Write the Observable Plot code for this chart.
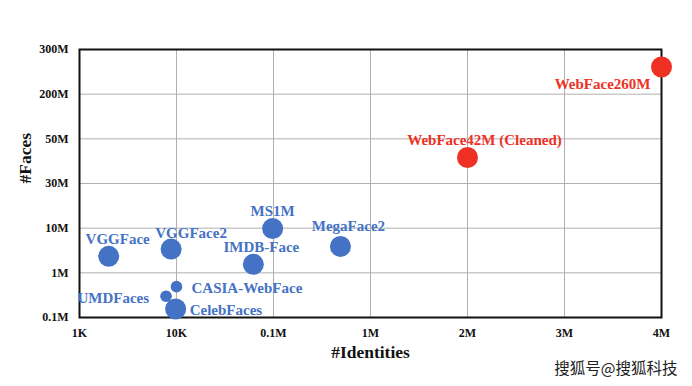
<!DOCTYPE html>
<html>
<head>
<meta charset="utf-8">
<script src="https://cdn.jsdelivr.net/npm/d3@7"></script>
<script src="https://cdn.jsdelivr.net/npm/@observablehq/plot@0.6"></script>
<style>
  html, body { margin: 0; padding: 0; background: #fff; }
  #chart { width: 692px; height: 386px; }
</style>
</head>
<body>
<div id="chart"></div>
<script>
// ---- data ----
const names = ["VGGFace", "VGGFace2", "UMDFaces", "CASIA-WebFace", "CelebFaces",
               "IMDB-Face", "MS1M", "MegaFace2", "WebFace42M (Cleaned)", "WebFace260M"];
const identities = [2000, 8800, 7800, 10000, 9800, 62000, 98000, 490000, 2000000, 4000000];
const faces = [2.34e6, 3.4e6, 3.0e5, 4.9e5, 1.55e5, 1.55e6, 9.8e6, 3.9e6, 4.04e7, 2.56e8];
const group = ["prior", "prior", "prior", "prior", "prior", "prior", "prior", "prior", "ours", "ours"];
const markerClass = ["large", "large", "small", "small", "large", "large", "large", "large", "large", "large"];
const xTickValues = [1e3, 1e4, 1e5, 1e6, 2e6, 3e6, 4e6];
const xTickLabels = ["1K", "10K", "0.1M", "1M", "2M", "3M", "4M"];
const yTickValues = [1e5, 1e6, 1e7, 3e7, 5e7, 2e8, 3e8];
const yTickLabels = ["0.1M", "1M", "10M", "30M", "50M", "200M", "300M"];

// piecewise-log position: tick i sits at position i
function pos(v, ticks) {
  for (let i = 0; i < ticks.length - 1; i++) {
    if (v <= ticks[i + 1] || i === ticks.length - 2) {
      return i + (Math.log(v) - Math.log(ticks[i])) / (Math.log(ticks[i + 1]) - Math.log(ticks[i]));
    }
  }
}

// label placement style per dataset
const labelStyle = {
  "VGGFace": {dx: 9, dy: -17, anchor: "middle"},
  "VGGFace2": {dx: 20, dy: -16, anchor: "middle"},
  "UMDFaces": {dx: -17, dy: 2, anchor: "end"},
  "CASIA-WebFace": {dx: 15, dy: 2, anchor: "start"},
  "CelebFaces": {dx: 14, dy: 1, anchor: "start"},
  "IMDB-Face": {dx: 8, dy: -17, anchor: "middle"},
  "MS1M": {dx: 0, dy: -17, anchor: "middle"},
  "MegaFace2": {dx: 8, dy: -20, anchor: "middle"},
  "WebFace42M (Cleaned)": {dx: 17, dy: -17, anchor: "middle"},
  "WebFace260M": {dx: -11, dy: 17, anchor: "end"}
};

const table = names.map((n, i) => ({
  name: n,
  x: pos(identities[i], xTickValues),
  y: pos(faces[i], yTickValues),
  group: group[i],
  r: markerClass[i] === "small" ? 5.8 : 10.5
}));

const colors = {prior: "#4472C4", ours: "#EE3124"};
const serif = "'Liberation Serif', 'Times New Roman', serif";

const labelMarks = Object.entries(labelStyle).map(([n, s]) =>
  Plot.text(table.filter(d => d.name === n), {
    x: "x", y: "y", text: "name", dx: s.dx, dy: s.dy, textAnchor: s.anchor,
    fill: d => colors[d.group], fontSize: 15, fontWeight: "bold", fontFamily: serif
  })
);

const chart = Plot.plot({
  width: 692,
  height: 386,
  marginLeft: 79,
  marginRight: 31,
  marginTop: 49,
  marginBottom: 69,
  style: {fontFamily: serif, background: "#fff", overflow: "visible"},
  x: {type: "linear", domain: [0, xTickValues.length - 1]},
  y: {type: "linear", domain: [0, yTickValues.length - 1]},
  r: {type: "identity"},
  marks: [
    Plot.gridX(d3.range(xTickValues.length), {stroke: "#b0b0b0", strokeOpacity: 1, strokeWidth: 1}),
    Plot.gridY(d3.range(yTickValues.length), {stroke: "#b0b0b0", strokeOpacity: 1, strokeWidth: 1}),
    Plot.frame({stroke: "#111", strokeWidth: 2}),
    Plot.axisX(d3.range(xTickValues.length), {
      tickFormat: i => xTickLabels[i], tickSize: 0, tickPadding: 11,
      fontSize: 12, fontWeight: "bold", fill: "#111", label: null
    }),
    Plot.axisY(d3.range(yTickValues.length), {
      tickFormat: i => yTickLabels[i], tickSize: 0, tickPadding: 11,
      fontSize: 12, fontWeight: "bold", fill: "#111", label: null
    }),
    Plot.text(["#Identities"], {frameAnchor: "bottom", dy: 40, fontSize: 17.5, fontWeight: "bold", fill: "#111"}),
    Plot.text(["#Faces"], {frameAnchor: "left", dx: -54, rotate: -90, fontSize: 17.5, fontWeight: "bold", fill: "#111"}),
    Plot.dot(table, {x: "x", y: "y", r: "r", fill: d => colors[d.group], stroke: "none"}),
    ...labelMarks,
    Plot.text(["搜狐号@搜狐科技"], {
      frameAnchor: "bottom-right", dx: 16, dy: 56, textAnchor: "end",
      fontSize: 15.5, fontFamily: "'Noto Sans CJK SC', sans-serif", fill: "#222",
      stroke: "#fff", strokeWidth: 2, paintOrder: "stroke"
    })
  ]
});
document.getElementById("chart").appendChild(chart);
</script>
</body>
</html>
